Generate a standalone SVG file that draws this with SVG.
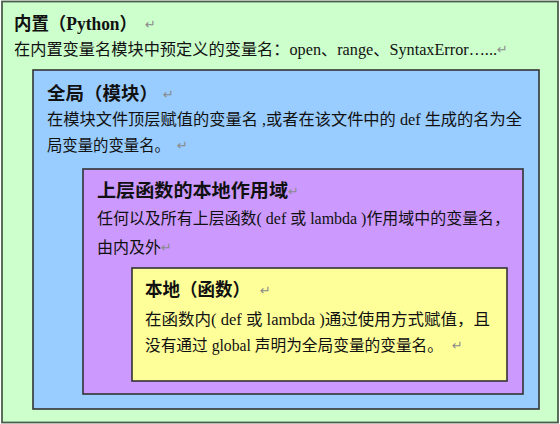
<svg xmlns="http://www.w3.org/2000/svg" width="560" height="424" viewBox="0 0 560 424">
<style>
.box{stroke:#333333;stroke-width:1.6}
.title{font-family:"Liberation Serif","Noto Sans CJK SC",serif;font-size:18px;font-weight:bold;fill:#111}
.body{font-family:"Liberation Serif","Noto Sans CJK SC",serif;font-size:16px;fill:#111}
.mark{font-family:"DejaVu Sans",sans-serif;font-size:13px;fill:#8a8a8a}
</style>
<rect width="560" height="424" fill="#ffffff"/>
<g id="builtin">
<rect x="2" y="1.5" width="556" height="421" fill="#ccffcc" stroke="#4a5e4a" stroke-width="1.8"/>
<text class="title" x="14" y="30" textLength="123" lengthAdjust="spacingAndGlyphs">内置（Python）</text>
<text class="mark" x="145" y="29">↵</text>
<text class="body" x="14" y="55" textLength="483" lengthAdjust="spacingAndGlyphs">在内置变量名模块中预定义的变量名：open、range、SyntaxError…...</text>
<text class="mark" x="497" y="54">↵</text>
</g>
<g id="global">
<rect class="box" x="33" y="70" width="506" height="339" fill="#99ccff"/>
<text class="title" x="47" y="100" textLength="111" lengthAdjust="spacingAndGlyphs">全局（模块）</text>
<text class="mark" x="163" y="99">↵</text>
<text class="body" x="47" y="125" textLength="475" lengthAdjust="spacingAndGlyphs">在模块文件顶层赋值的变量名 ,或者在该文件中的 def 生成的名为全</text>
<text class="body" x="47" y="151" textLength="123" lengthAdjust="spacingAndGlyphs">局变量的变量名。</text>
<text class="mark" x="177" y="150">↵</text>
</g>
<g id="enclosing">
<rect class="box" x="83" y="169" width="440" height="225" fill="#cc99ff"/>
<text class="title" x="97" y="197" textLength="191" lengthAdjust="spacingAndGlyphs">上层函数的本地作用域</text>
<text class="mark" x="288" y="196">↵</text>
<text class="body" x="97" y="224" textLength="413" lengthAdjust="spacingAndGlyphs">任何以及所有上层函数( def 或 lambda )作用域中的变量名，</text>
<text class="body" x="97" y="253" textLength="64" lengthAdjust="spacingAndGlyphs">由内及外</text>
<text class="mark" x="161" y="252">↵</text>
</g>
<g id="local">
<rect class="box" x="132" y="268" width="375" height="113" fill="#ffff99"/>
<text class="title" x="145" y="296" textLength="105" lengthAdjust="spacingAndGlyphs">本地（函数）</text>
<text class="mark" x="260" y="295">↵</text>
<text class="body" x="145" y="325" textLength="345" lengthAdjust="spacingAndGlyphs">在函数内( def 或 lambda )通过使用方式赋值，且</text>
<text class="body" x="145" y="351" textLength="298" lengthAdjust="spacingAndGlyphs">没有通过 global 声明为全局变量的变量名。</text>
<text class="mark" x="452" y="350">↵</text>
</g>
</svg>
